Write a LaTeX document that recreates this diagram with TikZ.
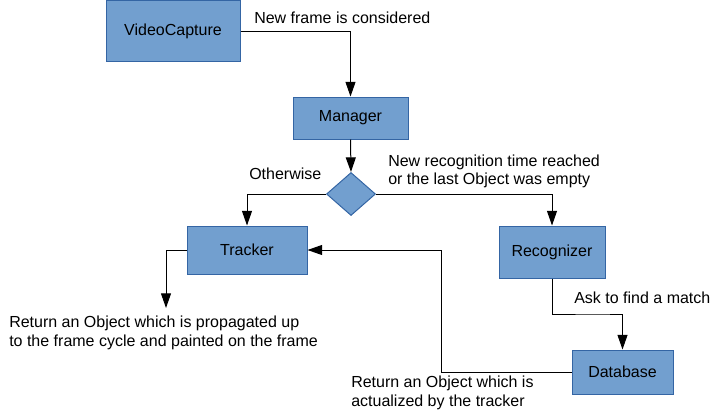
\documentclass[tikz,border=0pt]{standalone}
\usepackage{fontspec}
\setmainfont{Liberation Sans}
\usetikzlibrary{shapes.geometric,arrows.meta}
\tikzset{
  box/.style={draw=boxline, fill=boxfill, line width=0.75pt, inner sep=0pt, font=\fontsize{12}{14}\selectfont},
  dec/.style={draw=boxline, fill=boxfill, line width=0.75pt, diamond, inner sep=0pt, minimum width=36.75pt, minimum height=32.25pt},
  conn/.style={line width=0.75pt, -{Triangle[length=11pt,width=7.5pt]}},
  lbl/.style={inner sep=0pt, anchor=west, align=left, font=\fontsize{12}{14}\selectfont},
}
\definecolor{boxfill}{HTML}{729FCF}
\definecolor{boxline}{HTML}{3465A4}
\begin{document}
\begin{tikzpicture}[x=0.75pt,y=-0.75pt]
\useasboundingbox (0,0) rectangle (720,415);
\node[box, minimum width=100.5pt, minimum height=45.75pt] (vc) at (173,31) {VideoCapture};
\node[box, minimum width=86.25pt, minimum height=31.5pt] (mgr) at (350.5,118) {Manager};
\node[dec] (d) at (351,194) {};
\node[box, minimum width=90pt, minimum height=36pt] (trk) at (247,250) {Tracker};
\node[box, minimum width=79.5pt, minimum height=39pt] (rec) at (552,252) {Recognizer};
\node[box, minimum width=75.75pt, minimum height=33pt] (db) at (622.5,372) {Database};
\coordinate (out) at (166,308);

\draw[conn] (vc.east) -| (mgr.north);
\draw[conn] (mgr.south) -- (d.north);
\draw[conn] (d.west) -| (trk.north);
\draw[conn] (d.east) -| (rec.north);
\draw[conn] (trk.west) -| (out);
\draw[conn] (rec.south) |- (598,314) -| (db.north);
\draw[conn] (db.west) -| (441,250) -- (trk.east);

\node[lbl] (l1) at (254,18) {New frame is considered};
\node[lbl] (l2) at (249,174) {Otherwise};
\node[lbl, font=\fontsize{12}{13.5}\selectfont] (l3) at (388,171) {New recognition time reached\\or the last Object was empty};
\node[lbl] (l4) at (574,298) {Ask to find a match};
\node[lbl, font=\fontsize{12}{14.25}\selectfont] (l5) at (9,332.5) {Return an Object which is propagated up\\to the frame cycle and painted on the frame};
\node[lbl, font=\fontsize{12}{14.25}\selectfont] (l6) at (351,392.5) {Return an Object which is\\actualized by the tracker};
\end{tikzpicture}
\end{document}
